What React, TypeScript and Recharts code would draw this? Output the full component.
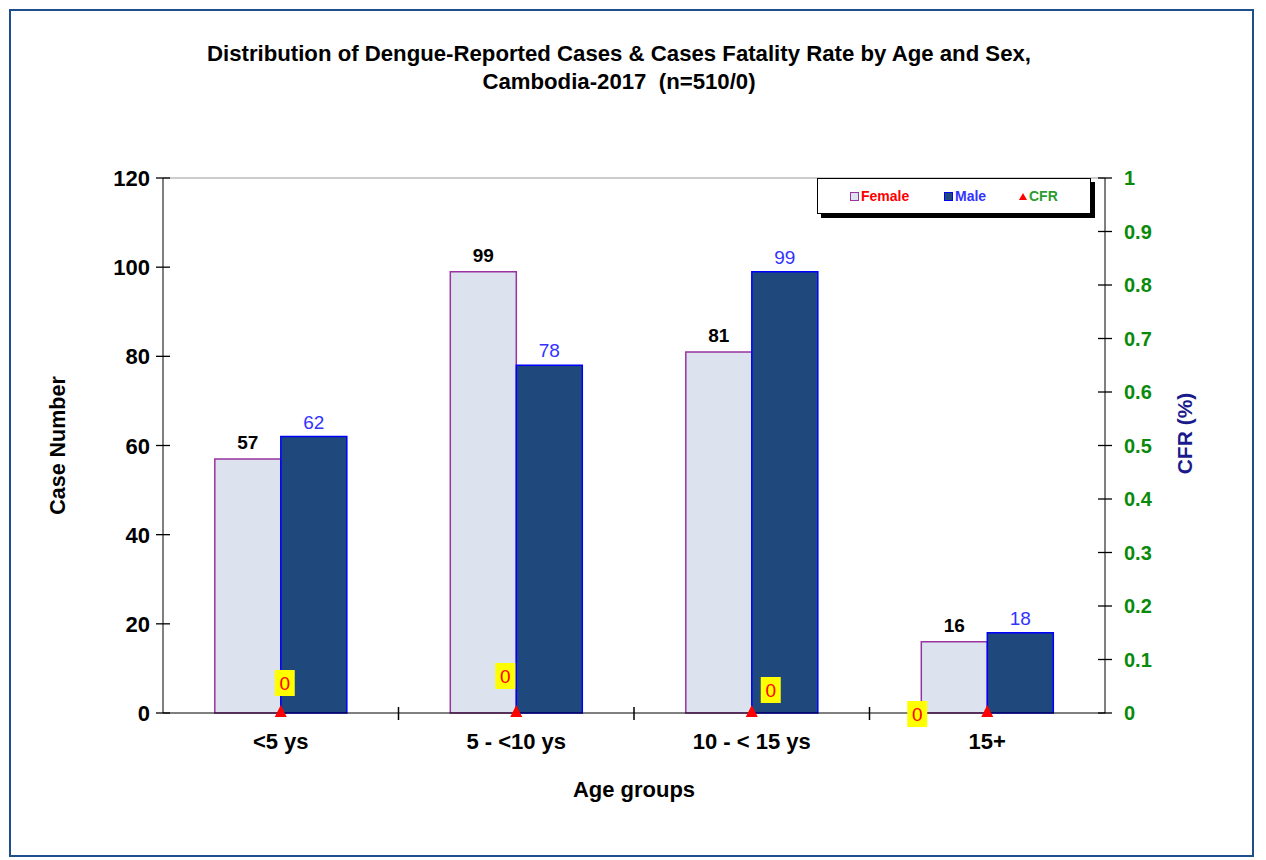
import React from "react";
import {
  ComposedChart,
  Bar,
  Line,
  XAxis,
  YAxis,
  LabelList,
  Label,
  ReferenceLine,
} from "recharts";

const ageGroups = ["<5 ys", "5 - <10 ys", "10 - < 15 ys", "15+"];
const femaleCases = [57, 99, 81, 16];
const maleCases = [62, 78, 99, 18];
const cfrValues = [0, 0, 0, 0];
const caseTicks = [0, 20, 40, 60, 80, 100, 120];
const cfrTicks = [0, 0.1, 0.2, 0.3, 0.4, 0.5, 0.6, 0.7, 0.8, 0.9, 1];

const data = ageGroups.map((group, i) => ({
  group,
  female: femaleCases[i],
  male: maleCases[i],
  cfr: cfrValues[i],
}));

const FONT = "Arial, 'Liberation Sans', sans-serif";

// the yellow "0" boxes sit a bit off the triangles in the original
const cfrLabelShift = [
  { dx: 4, dy: -30 },
  { dx: -11, dy: -37 },
  { dx: 19, dy: -23 },
  { dx: -70, dy: 1 },
];

const CfrLabel = (props: any) => {
  const { x, y, value, index } = props;
  const s = cfrLabelShift[index] || { dx: 0, dy: -30 };
  const cx = x + s.dx;
  const cy = y + s.dy;
  return (
    <g>
      <rect x={cx - 10} y={cy - 13} width={20} height={26} fill="#FFFF00" />
      <text x={cx} y={cy + 7} textAnchor="middle" fill="#FF0000" fontSize={19} fontFamily={FONT}>
        {value}
      </text>
    </g>
  );
};

const Triangle = (props: any) => {
  const { cx, cy } = props;
  if (cx == null || cy == null) return null;
  return <polygon points={`${cx},${cy - 8} ${cx - 6},${cy + 4} ${cx + 6},${cy + 4}`} fill="#FF0000" />;
};

// y-axis tick: crossing tick mark plus label
const LeftTick = (props: any) => {
  const { x, y, payload } = props;
  return (
    <g>
      <line x1={x - 7} y1={y} x2={x + 7} y2={y} stroke="#000" strokeWidth={1.3} />
      <text
        x={x - 13}
        y={y + 8}
        textAnchor="end"
        fill="#000"
        fontSize={22}
        fontWeight="bold"
        fontFamily={FONT}
      >
        {payload.value}
      </text>
    </g>
  );
};

const RightTick = (props: any) => {
  const { x, y, payload } = props;
  return (
    <g>
      <line x1={x - 7} y1={y} x2={x + 7} y2={y} stroke="#000" strokeWidth={1.3} />
      <text
        x={x + 19}
        y={y + 7}
        textAnchor="start"
        fill="#0A8A0A"
        fontSize={20}
        fontWeight="bold"
        fontFamily={FONT}
      >
        {payload.value}
      </text>
    </g>
  );
};

const EdgeTick = (props: any) => {
  const { x1, y1, y2 } = props;
  const base = Math.max(y1, y2);
  return <line x1={x1} y1={base - 6} x2={x1} y2={base + 7} stroke="#000" strokeWidth={1.5} />;
};

const CfrAxisTitle = (props: any) => {
  const { viewBox } = props;
  const x = viewBox.x + viewBox.width + 27;
  const y = viewBox.y + viewBox.height / 2 - 12;
  return (
    <text
      x={x}
      y={y}
      transform={`rotate(-90, ${x}, ${y})`}
      textAnchor="middle"
      fill="#1A1A8C"
      fontSize={21}
      fontWeight="bold"
      fontFamily={FONT}
    >
      CFR (%)
    </text>
  );
};

const Legend = () => (
  <div
    style={{
      position: "absolute",
      left: 817,
      top: 178,
      width: 272,
      height: 34,
      border: "1.5px solid #000",
      background: "#fff",
      boxShadow: "4px 4px 0 #000",
      fontFamily: FONT,
      fontWeight: "bold",
      fontSize: 14,
      display: "flex",
      alignItems: "center",
    }}
  >
    <span style={{ position: "absolute", left: 32, display: "flex", alignItems: "center", color: "#FF0000" }}>
      <span style={{ width: 7, height: 7, border: "1px solid #9933A0", background: "#DCE3EF", marginRight: 2 }} />
      Female
    </span>
    <span style={{ position: "absolute", left: 126, display: "flex", alignItems: "center", color: "#3333FF" }}>
      <span style={{ width: 7, height: 7, border: "1px solid #0000FF", background: "#1F497D", marginRight: 2 }} />
      Male
    </span>
    <span style={{ position: "absolute", left: 201, display: "flex", alignItems: "center", color: "#2E9B2E" }}>
      <span
        style={{
          width: 0,
          height: 0,
          borderLeft: "4px solid transparent",
          borderRight: "4px solid transparent",
          borderBottom: "7px solid #FF0000",
          marginRight: 2,
        }}
      />
      CFR
    </span>
  </div>
);

export default function App() {
  return (
    <div style={{ position: "absolute", left: 0, top: 0, width: 1266, height: 860, background: "#fff" }}>
      <div
        style={{
          position: "absolute",
          left: 9,
          top: 9,
          width: 1245,
          height: 848,
          border: "2px solid #1F4E8C",
          boxSizing: "border-box",
        }}
      />
      <div
        style={{
          position: "absolute",
          left: 0,
          top: 40,
          width: 1238,
          textAlign: "center",
          fontFamily: FONT,
          fontWeight: "bold",
          fontSize: 22.2,
          lineHeight: "28px",
          color: "#000",
        }}
      >
        Distribution of Dengue-Reported Cases &amp; Cases Fatality Rate by Age and Sex,
        <br />
        Cambodia-2017&nbsp;&nbsp;(n=510/0)
      </div>
      <div style={{ position: "absolute", left: 0, top: 0 }}>
        <ComposedChart
          width={1266}
          height={860}
          data={data}
          margin={{ top: 178, right: 101, left: 103, bottom: 117 }}
          barGap={0}
          barCategoryGap="22%"
        >
          <XAxis
            xAxisId="cat"
            dataKey="group"
            height={30}
            stroke="#000"
            tickLine={false}
            tick={{ fill: "#000", fontSize: 22, fontWeight: "bold", fontFamily: FONT }}
            tickMargin={14}
          >
            <Label
              value="Age groups"
              position="bottom"
              offset={38}
              style={{ fill: "#000", fontSize: 22, fontWeight: "bold", fontFamily: FONT }}
            />
          </XAxis>
          <YAxis
            yAxisId="left"
            width={60}
            domain={[0, 120]}
            ticks={caseTicks}
            stroke="#000"
            tickSize={0}
            tickMargin={0}
            tickLine={false}
            tick={<LeftTick />}
          >
            <Label
              value="Case Number"
              angle={-90}
              position="insideLeft"
              offset={-46}
              style={{ fill: "#000", fontSize: 21.5, fontWeight: "bold", fontFamily: FONT, textAnchor: "middle" }}
            />
          </YAxis>
          <YAxis
            yAxisId="right"
            orientation="right"
            width={60}
            domain={[0, 1]}
            ticks={cfrTicks}
            stroke="#000"
            tickSize={0}
            tickMargin={0}
            tickLine={false}
            tick={<RightTick />}
          >
            <Label content={<CfrAxisTitle />} />
          </YAxis>
          <ReferenceLine yAxisId="left" xAxisId="cat" y={120} stroke="#999" />
          {ageGroups.slice(1).map((g) => (
            <ReferenceLine
              key={g}
              xAxisId="cat"
              yAxisId="left"
              x={g}
              position="start"
              stroke="none"
              shape={<EdgeTick />}
            />
          ))}
          <Bar
            xAxisId="cat"
            yAxisId="left"
            dataKey="female"
            fill="#DCE3EF"
            stroke="#9933A0"
            strokeWidth={1.5}
            isAnimationActive={false}
          >
            <LabelList
              dataKey="female"
              position="top"
              offset={10}
              style={{ fill: "#000", fontSize: 19, fontWeight: "bold", fontFamily: FONT }}
            />
          </Bar>
          <Bar
            xAxisId="cat"
            yAxisId="left"
            dataKey="male"
            fill="#1F497D"
            stroke="#0000FF"
            strokeWidth={1.5}
            isAnimationActive={false}
          >
            <LabelList
              dataKey="male"
              position="top"
              offset={8}
              style={{ fill: "#3333FF", fontSize: 19, fontFamily: FONT }}
            />
          </Bar>
          <Line
            xAxisId="cat"
            yAxisId="right"
            dataKey="cfr"
            stroke="none"
            dot={<Triangle />}
            activeDot={false}
            isAnimationActive={false}
          >
            <LabelList dataKey="cfr" content={<CfrLabel />} />
          </Line>
        </ComposedChart>
      </div>
      <Legend />
    </div>
  );
}
